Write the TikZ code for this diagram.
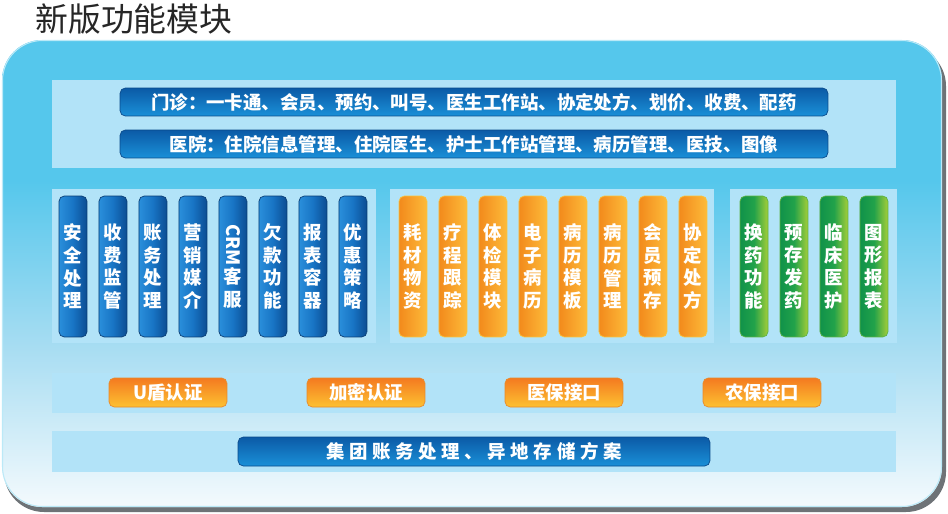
\documentclass[tikz,border=0pt]{standalone}
\usepackage{fontspec}
\setmainfont{Noto Sans CJK SC}
\newfontfamily\widecjk{Noto Sans CJK SC}[LetterSpace=25]
\usetikzlibrary{positioning}
\definecolor{panelcyan}{HTML}{55C7EC}
\definecolor{panelmid}{HTML}{A8DDF2}
\definecolor{panelbot}{HTML}{F4FAFD}
\definecolor{shadowgray}{HTML}{6E7377}
\definecolor{stripblue}{HTML}{B2E3F8}
\definecolor{bartop}{HTML}{0B5AA6}
\definecolor{barbot}{HTML}{1A90D8}
\definecolor{barline}{HTML}{0A4A8C}
\definecolor{pbleft}{HTML}{2A8FDB}
\definecolor{pbmid}{HTML}{1874C4}
\definecolor{pbright}{HTML}{0B4C92}
\definecolor{poleft}{HTML}{F28A1C}
\definecolor{poright}{HTML}{FDBB3A}
\definecolor{poline}{HTML}{F9C23C}
\definecolor{pgleft}{HTML}{10924A}
\definecolor{pgmid}{HTML}{22A24A}
\definecolor{pgright}{HTML}{A6CE39}
\definecolor{pgline}{HTML}{5DB343}
\definecolor{btntop}{HTML}{F47A20}
\definecolor{btnbot}{HTML}{FDC131}
\definecolor{btnline}{HTML}{E8892A}
\pgfdeclareverticalshading{panelshade}{100bp}{color(0bp)=(panelbot); color(25bp)=(panelbot); color(42bp)=(panelmid); color(60bp)=(panelcyan); color(100bp)=(panelcyan)}
\tikzstyle{strip} = [fill=stripblue, draw=none]
\tikzstyle{bluebar} = [rectangle, rounded corners=3pt, minimum width=14.16cm, minimum height=0.56cm, inner sep=0pt, text centered, draw=barline, top color=bartop, bottom color=barbot, text=white, font=\fontsize{10.5}{12}\selectfont\bfseries]
\tikzstyle{pill} = [rectangle, rounded corners=3pt, minimum width=0.56cm, minimum height=2.82cm, inner sep=0pt, align=center, text=white, font=\fontsize{10.5}{12.9}\selectfont\bfseries]
\tikzstyle{pillblue} = [pill, draw=pbright!80!black, left color=pbleft, right color=pbright, middle color=pbmid]
\tikzstyle{pillorange} = [pill, draw=poline, left color=poleft, right color=poright]
\tikzstyle{pillgreen} = [pill, draw=pgline, left color=pgleft, right color=pgright, middle color=pgmid]
\tikzstyle{button} = [rectangle, rounded corners=3pt, minimum width=2.36cm, minimum height=0.58cm, inner sep=0pt, text centered, draw=btnline, top color=btntop, bottom color=btnbot, text=white, font=\fontsize{10.5}{12}\selectfont\bfseries]
\begin{document}
\begin{tikzpicture}[x=0.02cm, y=-0.02cm, node distance=0.226cm]

\useasboundingbox (0,0) rectangle (948,514);

\node (title) [anchor=west, inner sep=0pt, text=black!85, font=\fontsize{18.7}{20}\selectfont] at (35,19) {新版功能模块};

\fill [shadowgray, rounded corners=0.8cm] (4,46) rectangle (946,512);
\shade [shading=panelshade, rounded corners=0.8cm] (2,40) rectangle (942,507);
\draw [white!60!panelcyan, rounded corners=0.8cm, line width=0.6pt] (2.5,40.5) rectangle (941.5,506.5);

\fill [strip] (52,80) rectangle (896,168);
\fill [strip] (52,189) rectangle (376,343);
\fill [strip] (390,189) rectangle (714,343);
\fill [strip] (730,189) rectangle (897,343);
\fill [strip] (52,373) rectangle (896,413);
\fill [strip] (52,431) rectangle (896,472);

\node (mz) [bluebar] at (474,102) {门诊：一卡通、会员、预约、叫号、医生工作站、协定处方、划价、收费、配药};

\node (zy) [bluebar] at (474,144) {医院：住院信息管理、住院医生、护士工作站管理、病历管理、医技、图像};

\node (b1) [pillblue] at (73,266.5) {安\\全\\处\\理};

\node (b2) [pillblue, right=of b1] {收\\费\\监\\管};

\node (b3) [pillblue, right=of b2] {账\\务\\处\\理};

\node (b4) [pillblue, right=of b3] {营\\销\\媒\\介};

\node (b5) [pillblue, right=of b4] {\rotatebox{-90}{CRM}\\客\\服};

\node (b6) [pillblue, right=of b5] {欠\\款\\功\\能};

\node (b7) [pillblue, right=of b6] {报\\表\\容\\器};

\node (b8) [pillblue, right=of b7] {优\\惠\\策\\略};

\node (o1) [pillorange] at (413,266.5) {耗\\材\\物\\资};

\node (o2) [pillorange, right=of o1] {疗\\程\\跟\\踪};

\node (o3) [pillorange, right=of o2] {体\\检\\模\\块};

\node (o4) [pillorange, right=of o3] {电\\子\\病\\历};

\node (o5) [pillorange, right=of o4] {病\\历\\模\\板};

\node (o6) [pillorange, right=of o5] {病\\历\\管\\理};

\node (o7) [pillorange, right=of o6] {会\\员\\预\\存};

\node (o8) [pillorange, right=of o7] {协\\定\\处\\方};

\node (g1) [pillgreen] at (754,266.5) {换\\药\\功\\能};

\node (g2) [pillgreen, right=of g1] {预\\存\\发\\药};

\node (g3) [pillgreen, right=of g2] {临\\床\\医\\护};

\node (g4) [pillgreen, right=of g3] {图\\形\\报\\表};

\node (udun) [button] at (168,392.5) {U盾认证};

\node (jiami) [button] at (366,392.5) {加密认证};

\node (yibao) [button] at (564,392.5) {医保接口};

\node (nongbao) [button] at (762,392.5) {农保接口};

\node (jituan) [bluebar, minimum width=9.44cm, minimum height=0.58cm, font=\fontsize{10.5}{12}\selectfont\widecjk\bfseries] at (474,451.5) {集团账务处理、异地存储方案};

\end{tikzpicture}
\end{document}
